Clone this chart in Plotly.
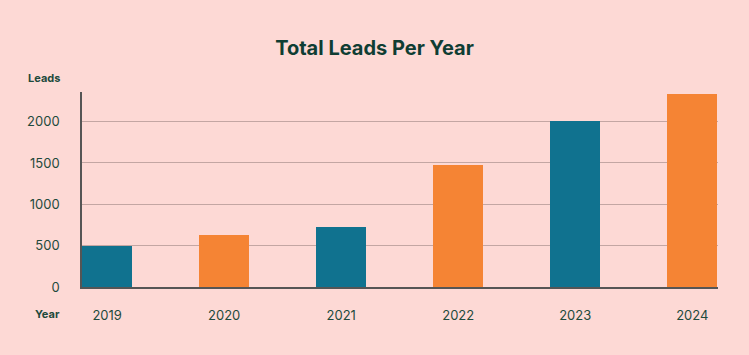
import plotly.graph_objects as go

years = ["2019", "2020", "2021", "2022", "2023", "2024"]
leads = [500, 630, 725, 1480, 2005, 2330]
bar_colors = ["#10728F", "#F58434", "#10728F", "#F58434", "#10728F", "#F58434"]
y_ticks = [0, 500, 1000, 1500, 2000]

W, H = 749, 355
L, R, T, B = 82, 31, 92, 68
pw, ph = W - L - R, H - T - B

fig = go.Figure(go.Bar(
    x=years, y=leads, marker=dict(color=bar_colors, line=dict(width=0)),
    width=0.43, hoverinfo="x+y",
))

text_col = "#1E4A3C"
fig.update_layout(
    width=W, height=H,
    margin=dict(l=L, r=R, t=T, b=B, pad=0),
    paper_bgcolor="#FDD9D5", plot_bgcolor="#FDD9D5",
    font=dict(family="Inter, Roboto, sans-serif", color=text_col, size=13),
    title=dict(text="<b>Total Leads Per Year</b>", x=0.5, xref="container", xanchor="center",
               y=1 - 48 / H, yref="container", yanchor="middle",
               font=dict(size=20, color="#0F3D33", family="Inter, Roboto, sans-serif")),
    showlegend=False,
    bargap=0,
)
fig.update_xaxes(
    type="category", range=[-0.215, 5.22], showgrid=False,
    showline=True, linecolor="#555555", linewidth=1.5,
    ticks="", ticklabelstandoff=16, tickfont=dict(size=13, color=text_col),
    fixedrange=True,
)
fig.update_yaxes(
    range=[0, 2358], tickvals=y_ticks, showgrid=True, gridcolor="#C3A6A3", gridwidth=1,
    zeroline=False, showline=True, linecolor="#555555", linewidth=1.5,
    ticks="", ticklabelstandoff=18, tickfont=dict(size=13, color=text_col),
    fixedrange=True,
)
fig.add_annotation(text="<b>Leads</b>", xref="paper", yref="paper",
                   x=(62 - L) / pw, y=(H - B - 78) / ph, xanchor="right", yanchor="middle",
                   showarrow=False, font=dict(size=11, color=text_col))
fig.add_annotation(text="<b>Year</b>", xref="paper", yref="paper",
                   x=(62 - L) / pw, y=(H - B - 314) / ph, xanchor="right", yanchor="middle",
                   showarrow=False, font=dict(size=11, color=text_col))

fig.write_html(
    "out.html",
    config={"displayModeBar": False},
    post_script="document.body.style.margin='0';document.body.style.background='#FDD9D5';",
)
